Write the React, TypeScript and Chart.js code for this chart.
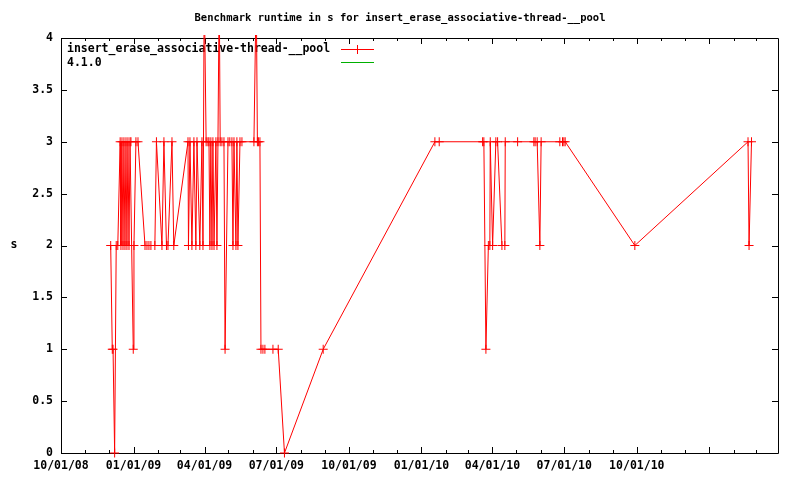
import React, { useEffect, useRef } from "react";
import { Chart, registerables } from "chart.js";

Chart.register(...registerables);

const chartTitle = "Benchmark runtime in s for insert_erase_associative-thread-__pool";
const seriesName = "insert_erase_associative-thread-__pool";
const secondSeriesName = "4.1.0";
const yAxisTitle = "s";

// days since 10/01/08
const runDays = [
  63, 65, 66, 68, 70, 72, 75, 76, 77.3, 78.6, 79.8, 81.1, 82.4, 83.6, 84.9, 86.2, 87.5, 88.7, 91.6,
  92.5, 95, 97.6, 106.5, 109, 111.5, 114, 119, 121, 128, 130.5, 133.7, 135.6, 140.7, 143, 161, 161.6,
  163.5, 166, 168.5, 171, 172.4, 176, 178.7, 180, 181.6, 184, 186.3, 187.6, 188.8, 190,
  191.4, 192.6, 194, 196.4, 197.7, 199, 200.6, 201.8, 204, 206.6, 208, 211.7, 214, 216.7,
  218, 219.3, 221.8, 223, 224.3, 226.9, 229.4, 244.6, 247.5, 249, 250.3, 252.2, 253.5, 256,
  258.5, 268.7, 275.4, 283.3, 332.4, 474, 479.5, 534.5, 536.1, 538.7, 541.8, 543.7,
  544.2, 547.2, 551.3, 553.5, 559, 562.7, 563.2, 578.9, 599.5, 601.1, 603.7,
  607.1, 608.7, 632.4, 635.8, 637.5, 639.2, 727.5, 871, 872.3, 875.4,
];
const runSeconds = [
  2, 1, 1, 0, 2, 2, 3, 2, 3, 2, 3, 2, 3, 2, 3, 2, 3, 3, 1,
  2, 3, 3, 2, 2, 2, 2, 2, 3, 2, 3, 2, 2, 3, 2, 3, 2,
  3, 2, 3, 2, 3, 2, 3, 2, 4.5, 3, 3, 3, 2, 3,
  2, 3, 2, 3, 2, 3, 4.5, 3, 3, 3, 1, 3, 3, 3,
  2, 3, 2, 3, 2, 3, 3, 3, 4.5, 3, 3, 3, 1, 1,
  1, 1, 1, 0, 1, 3, 3, 3, 3, 1, 2, 2,
  3, 2, 3, 3, 2, 2, 3, 3, 3, 3, 3,
  2, 3, 3, 3, 3, 3, 2, 3, 2, 3,
];

const xTickDays = [0, 92, 182, 273, 365, 457, 547, 638, 730];
const xTickLabels = ["10/01/08", "01/01/09", "04/01/09", "07/01/09", "10/01/09", "01/01/10", "04/01/10", "07/01/10", "10/01/10"];
const xMin = 0;
const xMax = 909;
const yMin = 0;
const yMax = 4;
const yStep = 0.5;

const FONT = "'DejaVu Sans Mono', monospace";
const RED = "#ff0000";
const GREEN = "#00b000";

const dayMs = 86400000;
const baseMs = Date.UTC(2008, 9, 1);

const framePlugin = {
  id: "gnuFrame",
  beforeDatasetsDraw(chart: any) {
    const { ctx, chartArea } = chart;
    const { left, right, top, bottom } = chartArea;
    const xs = chart.scales.x;
    const ys = chart.scales.y;
    ctx.save();
    ctx.strokeStyle = "#000";
    ctx.lineWidth = 1;
    ctx.beginPath();
    ctx.rect(Math.round(left) + 0.5, Math.round(top) + 0.5, Math.round(right - left), Math.round(bottom - top));
    ctx.stroke();
    // x ticks (monthly minor, quarterly major)
    ctx.beginPath();
    for (let m = 0; m < 40; m++) {
      const d = (Date.UTC(2008, 9 + m, 1) - baseMs) / dayMs;
      if (d > xMax) break;
      const px = Math.round(xs.getPixelForValue(d)) + 0.5;
      const len = m % 3 === 0 ? 6 : 3;
      ctx.moveTo(px, bottom);
      ctx.lineTo(px, bottom - len);
      ctx.moveTo(px, top);
      ctx.lineTo(px, top + len);
    }
    for (let v = yMin; v <= yMax; v += yStep) {
      const py = Math.round(ys.getPixelForValue(v)) + 0.5;
      ctx.moveTo(left, py);
      ctx.lineTo(left + 6, py);
      ctx.moveTo(right, py);
      ctx.lineTo(right - 6, py);
    }
    ctx.stroke();

    // title and axis title
    ctx.fillStyle = "#000";
    ctx.font = `bold 10.5px ${FONT}`;
    ctx.textAlign = "center";
    ctx.textBaseline = "middle";
    ctx.fillText(chartTitle, 400, 18);
    ctx.font = `bold 11.5px ${FONT}`;
    ctx.fillText(yAxisTitle, 14, 245);

    // key
    ctx.textAlign = "left";
    ctx.fillText(seriesName, 67, 49);
    ctx.fillText(secondSeriesName, 67, 63);
    ctx.fillStyle = RED;
    ctx.fillRect(341, 49, 33, 1);
    ctx.fillRect(357, 45, 1, 9);
    ctx.fillStyle = GREEN;
    ctx.fillRect(341, 62, 33, 1);
    ctx.restore();
  },
};

export default function App() {
  const ref = useRef<HTMLCanvasElement | null>(null);
  useEffect(() => {
    document.body.style.margin = "0";
    const canvas = ref.current;
    if (!canvas) return;
    const chart = new Chart(canvas, {
      type: "line",
      data: {
        datasets: [
          {
            label: seriesName,
            data: runDays.map((d, i) => ({ x: d, y: runSeconds[i] })),
            borderColor: RED,
            backgroundColor: RED,
            borderWidth: 1,
            pointStyle: "cross",
            pointRadius: 4.5,
            pointBorderWidth: 1,
            pointBorderColor: RED,
            tension: 0,
            fill: false,
            clip: { left: 5, right: 5, top: 3, bottom: 5 } as any,
          },
          {
            label: secondSeriesName,
            data: [],
            borderColor: GREEN,
            borderWidth: 1,
            pointRadius: 0,
          },
        ],
      },
      options: {
        animation: false,
        responsive: false,
        events: [],
        layout: { padding: { left: 0, right: 22, top: 38, bottom: 0 } },
        plugins: {
          legend: { display: false },
          title: { display: false },
          tooltip: { enabled: false },
        },
        scales: {
          x: {
            type: "linear",
            min: xMin,
            max: xMax,
            grid: { display: false, drawTicks: false },
            border: { display: false },
            afterBuildTicks: (scale: any) => {
              scale.ticks = xTickDays.map((v) => ({ value: v }));
            },
            afterFit: (scale: any) => {
              scale.height = 27;
            },
            ticks: {
              autoSkip: false,
              maxRotation: 0,
              padding: 6,
              color: "#000",
              font: { family: FONT, size: 11.5, weight: "bold" },
              callback: (value: any) => {
                const i = xTickDays.indexOf(Number(value));
                return i >= 0 ? xTickLabels[i] : "";
              },
            },
          },
          y: {
            type: "linear",
            min: yMin,
            max: yMax,
            grid: { display: false, drawTicks: false },
            border: { display: false },
            afterFit: (scale: any) => {
              scale.width = 61;
            },
            ticks: {
              stepSize: yStep,
              padding: 8,
              color: "#000",
              font: { family: FONT, size: 11.5, weight: "bold" },
              callback: (value: any) => String(Number(value)),
            },
          },
        },
      },
      plugins: [framePlugin],
    });
    return () => chart.destroy();
  }, []);
  return (
    <div style={{ width: 800, height: 480, background: "#fff" }}>
      <canvas ref={ref} width={800} height={480} />
    </div>
  );
}
